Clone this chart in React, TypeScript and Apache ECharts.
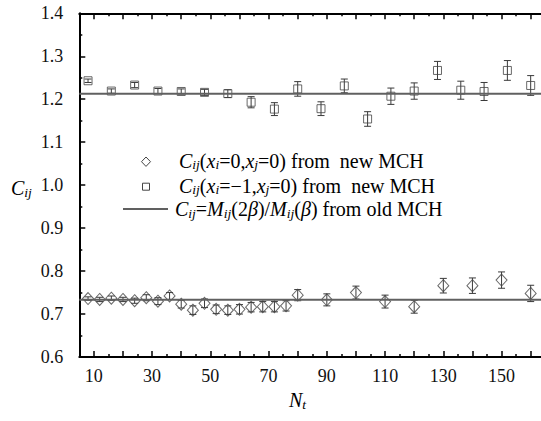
import React, { useEffect, useRef } from 'react';
import * as echarts from 'echarts';

// ---- data ----
const squareX = [8, 16, 24, 32, 40, 48, 56, 64, 72, 80, 88, 96, 104, 112, 120, 128, 136, 144, 152, 160];
const squareY = [1.243, 1.219, 1.233, 1.219, 1.218, 1.216, 1.213, 1.193, 1.177, 1.224, 1.178, 1.231, 1.154, 1.207, 1.219, 1.267, 1.221, 1.218, 1.267, 1.232];
const squareErr = [0.004, 0.005, 0.006, 0.006, 0.006, 0.007, 0.009, 0.013, 0.015, 0.017, 0.016, 0.016, 0.017, 0.019, 0.019, 0.021, 0.021, 0.021, 0.023, 0.023];

const diamondX = [8, 12, 16, 20, 24, 28, 32, 36, 40, 44, 48, 52, 56, 60, 64, 68, 72, 76, 80, 90, 100, 110, 120, 130, 140, 150, 160];
const diamondY = [0.736, 0.734, 0.737, 0.734, 0.731, 0.738, 0.730, 0.742, 0.723, 0.709, 0.725, 0.711, 0.709, 0.711, 0.716, 0.717, 0.717, 0.719, 0.744, 0.733, 0.750, 0.729, 0.717, 0.766, 0.766, 0.779, 0.748];
const diamondErr = [0.004, 0.005, 0.005, 0.005, 0.006, 0.007, 0.008, 0.008, 0.009, 0.010, 0.010, 0.010, 0.010, 0.011, 0.011, 0.012, 0.012, 0.012, 0.013, 0.014, 0.015, 0.015, 0.015, 0.017, 0.018, 0.019, 0.019];

const oldMchLevels = [1.213, 0.733];

const xTickLabels = [10, 30, 50, 70, 90, 110, 130, 150];
const xMajorTicks = [10, 20, 30, 40, 50, 60, 70, 80, 90, 100, 110, 120, 130, 140, 150, 160];
const xMinorTicks = [15, 25, 35, 45, 55, 65, 75, 85, 95, 105, 115, 125, 135, 145, 155, 165];

const X_MIN = 5;
const X_MAX = 170;
const Y_MIN = 0.6;
const Y_MAX = 1.4;

const FONT = 'Liberation Serif';

const GRID = { left: 79.3, top: 13.3, width: 480.5, height: 343.7 };

function errorBarItem(params: any, api: any) {
  const x = api.value(0);
  const y = api.value(1);
  const e = api.value(2);
  const top = api.coord([x, y + e]);
  const bot = api.coord([x, y - e]);
  const hw = 3.5;
  const style = { stroke: '#3a3a3a', lineWidth: 1 };
  return {
    type: 'group',
    children: [
      { type: 'line', shape: { x1: top[0], y1: top[1], x2: bot[0], y2: bot[1] }, style },
      { type: 'line', shape: { x1: top[0] - hw, y1: top[1], x2: top[0] + hw, y2: top[1] }, style },
      { type: 'line', shape: { x1: bot[0] - hw, y1: bot[1], x2: bot[0] + hw, y2: bot[1] }, style },
    ],
  };
}

const rich = {
  it: { fontFamily: FONT, fontStyle: 'italic', fontSize: 20, lineHeight: 22, color: '#111', verticalAlign: 'middle' },
  n: { fontFamily: FONT, fontSize: 20, lineHeight: 22, color: '#111', verticalAlign: 'middle' },
  sub: { fontFamily: FONT, fontStyle: 'italic', fontSize: 13.5, lineHeight: 10, color: '#111', verticalAlign: 'bottom' },
};

export default function App() {
  const ref = useRef<HTMLDivElement>(null);
  useEffect(() => {
    if (!ref.current) return;
    const chart = echarts.init(ref.current, undefined, { renderer: 'svg' });

    const axisLineStyle = { color: '#000', width: 2 };
    const option: any = {
      animation: false,
      backgroundColor: '#fff',
      textStyle: { fontFamily: FONT },
      grid: [
        { ...GRID, containLabel: false, outerBoundsMode: 'none' },
        { ...GRID, containLabel: false, outerBoundsMode: 'none' },
      ],
      xAxis: [
        {
          type: 'value', gridIndex: 0, position: 'bottom', min: X_MIN, max: X_MAX,
          axisLine: { show: true, onZero: false, lineStyle: axisLineStyle },
          axisTick: { show: true, inside: true, length: 6, customValues: xMajorTicks, lineStyle: { color: '#000', width: 1.5 } },
          axisLabel: { show: true, customValues: xTickLabels, fontFamily: FONT, fontSize: 18, color: '#111', margin: 10 },
          splitLine: { show: false },
        },
        {
          type: 'value', gridIndex: 0, position: 'top', min: X_MIN, max: X_MAX,
          axisLine: { show: true, onZero: false, lineStyle: axisLineStyle },
          axisTick: { show: true, inside: true, length: 6, customValues: xMajorTicks, lineStyle: { color: '#000', width: 1.5 } },
          axisLabel: { show: false },
          splitLine: { show: false },
        },
        {
          type: 'value', gridIndex: 1, position: 'bottom', min: X_MIN, max: X_MAX,
          axisLine: { show: false },
          axisTick: { show: true, inside: true, length: 3, customValues: xMinorTicks, lineStyle: { color: '#000', width: 1.5 } },
          axisLabel: { show: false },
          splitLine: { show: false },
        },
        {
          type: 'value', gridIndex: 1, position: 'top', min: X_MIN, max: X_MAX,
          axisLine: { show: false },
          axisTick: { show: true, inside: true, length: 3, customValues: xMinorTicks, lineStyle: { color: '#000', width: 1.5 } },
          axisLabel: { show: false },
          splitLine: { show: false },
        },
      ],
      yAxis: [
        {
          type: 'value', gridIndex: 0, position: 'left', min: Y_MIN, max: Y_MAX, interval: 0.1,
          axisLine: { show: true, onZero: false, lineStyle: axisLineStyle },
          axisTick: { show: true, inside: true, length: 6, lineStyle: { color: '#000', width: 1.5 } },
          minorTick: { show: true, splitNumber: 2, length: 3, lineStyle: { color: '#000', width: 1.5 } },
          axisLabel: { fontFamily: FONT, fontSize: 18, color: '#111', margin: 16, formatter: (v: number) => v.toFixed(1) },
          splitLine: { show: false },
          minorSplitLine: { show: false },
        },
        {
          type: 'value', gridIndex: 1, min: Y_MIN, max: Y_MAX, show: false,
        },
      ],
      series: [
        {
          type: 'line', xAxisIndex: 0, yAxisIndex: 0, symbol: 'none', silent: true,
          data: [[X_MIN, oldMchLevels[0]], [X_MAX, oldMchLevels[0]]],
          lineStyle: { color: '#606060', width: 2 },
        },
        {
          type: 'line', xAxisIndex: 0, yAxisIndex: 0, symbol: 'none', silent: true,
          data: [[X_MIN, oldMchLevels[1]], [X_MAX, oldMchLevels[1]]],
          lineStyle: { color: '#606060', width: 2 },
        },
        {
          type: 'custom', xAxisIndex: 0, yAxisIndex: 0, renderItem: errorBarItem,
          encode: { x: 0, y: 1 },
          data: squareX.map((x, i) => [x, squareY[i], squareErr[i]]),
        },
        {
          type: 'custom', xAxisIndex: 0, yAxisIndex: 0, renderItem: errorBarItem,
          encode: { x: 0, y: 1 },
          data: diamondX.map((x, i) => [x, diamondY[i], diamondErr[i]]),
        },
        {
          type: 'scatter', xAxisIndex: 0, yAxisIndex: 0, symbol: 'rect', symbolSize: 8,
          data: squareX.map((x, i) => [x, squareY[i]]),
          itemStyle: { color: 'rgba(0,0,0,0)', borderColor: '#444', borderWidth: 1 },
        },
        {
          type: 'scatter', xAxisIndex: 0, yAxisIndex: 0, symbol: 'diamond', symbolSize: [11, 12],
          data: diamondX.map((x, i) => [x, diamondY[i]]),
          itemStyle: { color: 'rgba(0,0,0,0)', borderColor: '#444', borderWidth: 1 },
        },
      ],
      graphic: [
        { type: 'polygon', shape: { points: [[146, 157], [150.5, 161.7], [146, 166.4], [141.5, 161.7]] }, style: { fill: 'none', stroke: '#444', lineWidth: 1 } },
        { type: 'rect', shape: { x: 142.5, y: 183.2, width: 7, height: 7 }, style: { fill: 'none', stroke: '#444', lineWidth: 1 } },
        { type: 'line', shape: { x1: 123, y1: 209, x2: 168, y2: 209 }, style: { stroke: '#606060', lineWidth: 2 } },
        {
          type: 'text', x: 179, y: 160.5,
          style: {
            text: '{it|C}{sub|ij}{n|(}{it|x}{sub|i}{n|=0,}{it|x}{sub|j}{n|=0) from\u00a0 new MCH}',
            rich, verticalAlign: 'middle', align: 'left', fontFamily: FONT, fontSize: 20,
          },
        },
        {
          type: 'text', x: 179, y: 185.5,
          style: {
            text: '{it|C}{sub|ij}{n|(}{it|x}{sub|i}{n|=\u22121,}{it|x}{sub|j}{n|=0) from\u00a0 new MCH}',
            rich, verticalAlign: 'middle', align: 'left', fontFamily: FONT, fontSize: 20,
          },
        },
        {
          type: 'text', x: 175, y: 209,
          style: {
            text: '{it|C}{sub|ij}{n|=}{it|M}{sub|ij}{n|(2}{it|\u03b2}{n|)/}{it|M}{sub|ij}{n|(}{it|\u03b2}{n|) from old MCH}',
            rich, verticalAlign: 'middle', align: 'left', fontFamily: FONT, fontSize: 20,
          },
        },
        {
          type: 'text', x: 289, y: 400,
          style: { text: '{it|N}{sub|t}', rich, verticalAlign: 'middle', align: 'left', fontFamily: FONT },
        },
        {
          type: 'text', x: 11, y: 188,
          style: { text: '{it|C}{sub|ij}', rich, verticalAlign: 'middle', align: 'left', fontFamily: FONT },
        },
      ],
    };
    chart.setOption(option);
    return () => chart.dispose();
  }, []);

  return (
    <div
      ref={ref}
      style={{ position: 'fixed', left: 0, top: 0, width: 580, height: 421, background: '#fff' }}
    />
  );
}
